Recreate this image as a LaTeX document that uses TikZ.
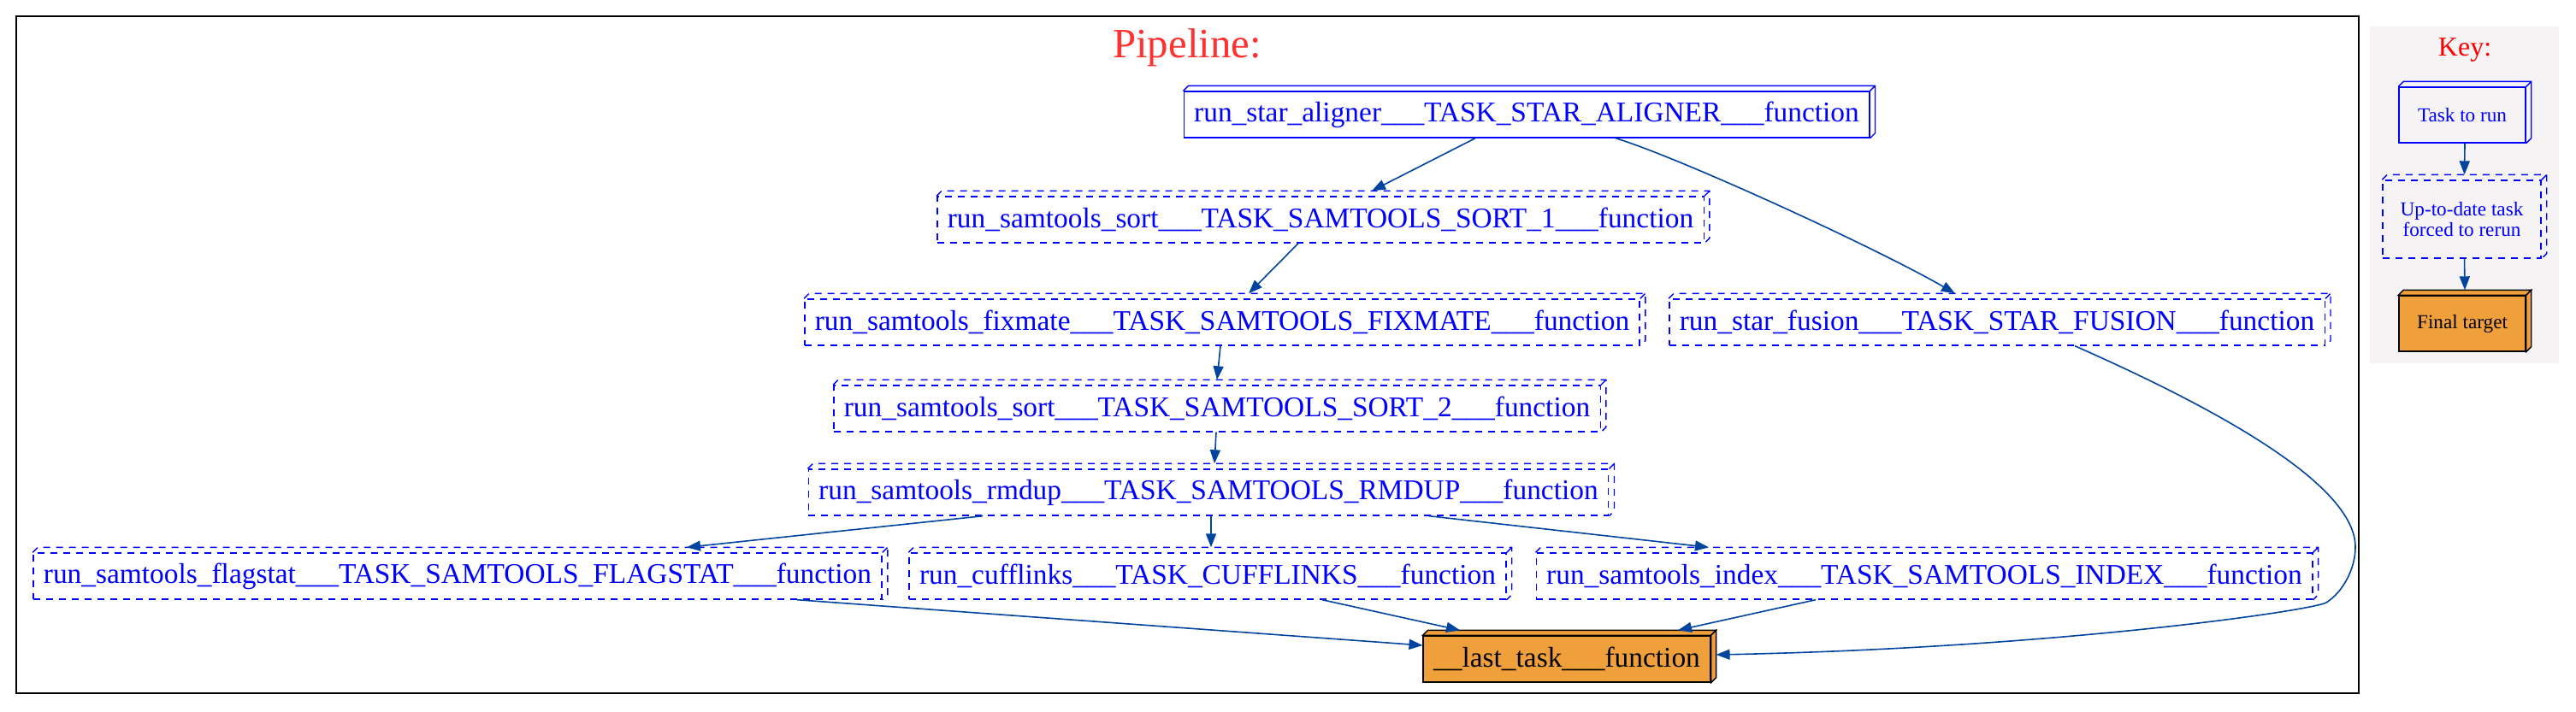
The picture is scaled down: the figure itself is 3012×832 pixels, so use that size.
\documentclass[tikz,border=0pt]{standalone}
\usepackage{fontspec}
\setmainfont{Liberation Serif}
\usetikzlibrary{arrows.meta}
\definecolor{taskblue}{HTML}{0000FF}
\definecolor{edgeblue}{HTML}{0044A0}
\definecolor{targetfill}{HTML}{EFA03B}
\definecolor{keyback}{HTML}{F5F3F4}
\definecolor{titlered}{HTML}{FF3232}
\begin{document}
\begin{tikzpicture}[x=0.5pt,y=-0.5pt,
    blueline/.style={draw=taskblue, line width=0.7pt},
    dashline/.style={blueline, dash pattern=on 4pt off 3.5pt},
    task/.style={blueline, text=taskblue, inner xsep=6pt, minimum height=27pt,
      font=\fontsize{16.7}{20}\selectfont},
    forced/.style={task, dashline},
    target/.style={task, draw=black, text=black, fill=targetfill},
    keynode/.style={font=\fontsize{11.6}{12}\selectfont, align=center,
      minimum width=74pt, minimum height=32.5pt},
    edge/.style={draw=edgeblue, line width=0.8pt, -{Triangle[length=8pt,width=6pt]}}
  ]
      \useasboundingbox (0,0) rectangle (3012,832);
      \fill[keyback] (2771,31) rectangle (2992,425);
      \draw[line width=1pt] (19,19) rectangle (2758,811);

      \node[font=\fontsize{24.4}{29}\selectfont, text=titlered, anchor=base] (pipetitle) at (1388,67) {Pipeline:};
      \node[font=\fontsize{16}{19}\selectfont, text=red, anchor=base] (keytitle) at (2882,65) {Key:};

      \node[task] (aligner) at (1785,134) {run\_star\_aligner\_\_\_TASK\_STAR\_ALIGNER\_\_\_function};
      \node[forced] (sort1) at (1544,257) {run\_samtools\_sort\_\_\_TASK\_SAMTOOLS\_SORT\_1\_\_\_function};
      \node[forced] (fixmate) at (1429,377) {run\_samtools\_fixmate\_\_\_TASK\_SAMTOOLS\_FIXMATE\_\_\_function};
      \node[forced] (fusion) at (2335,377) {run\_star\_fusion\_\_\_TASK\_STAR\_FUSION\_\_\_function};
      \node[forced] (sort2) at (1423,478) {run\_samtools\_sort\_\_\_TASK\_SAMTOOLS\_SORT\_2\_\_\_function};
      \node[forced] (rmdup) at (1413,576) {run\_samtools\_rmdup\_\_\_TASK\_SAMTOOLS\_RMDUP\_\_\_function};
      \node[forced] (flagstat) at (535,674) {run\_samtools\_flagstat\_\_\_TASK\_SAMTOOLS\_FLAGSTAT\_\_\_function};
      \node[forced] (cufflinks) at (1412,674) {run\_cufflinks\_\_\_TASK\_CUFFLINKS\_\_\_function};
      \node[forced] (index) at (2250,674) {run\_samtools\_index\_\_\_TASK\_SAMTOOLS\_INDEX\_\_\_function};
      \node[target] (last) at (1832,771) {\_\_last\_task\_\_\_function};

      \node[task, keynode] (keytask) at (2879,134.5) {Task to run};
      \node[forced, keynode, minimum width=92.5pt, minimum height=45.5pt] (keyforced) at (2878.5,256.5) {Up-to-date task\\forced to rerun};
      \node[target, keynode] (keytarget) at (2879,378.5) {Final target};

      % box3d faces
      \foreach \n in {aligner, keytask}
        \draw[blueline] (\n.north west) -- ([shift={(3pt,3pt)}]\n.north west) -- ([shift={(3pt,3pt)}]\n.north east)
          -- ([shift={(3pt,3pt)}]\n.south east) -- (\n.south east) (\n.north east) -- ([shift={(3pt,3pt)}]\n.north east);
      \foreach \n in {sort1, fixmate, fusion, sort2, rmdup, flagstat, cufflinks, index, keyforced}
        \draw[dashline] (\n.north west) -- ([shift={(3pt,3pt)}]\n.north west) -- ([shift={(3pt,3pt)}]\n.north east)
          -- ([shift={(3pt,3pt)}]\n.south east) -- (\n.south east) (\n.north east) -- ([shift={(3pt,3pt)}]\n.north east);
      \foreach \n in {last, keytarget} {
        \filldraw[fill=targetfill, line width=0.7pt] (\n.north west) -- ([shift={(3pt,3pt)}]\n.north west)
          -- ([shift={(3pt,3pt)}]\n.north east) -- (\n.north east) -- cycle;
        \filldraw[fill=targetfill, line width=0.7pt] (\n.north east) -- ([shift={(3pt,3pt)}]\n.north east)
          -- ([shift={(3pt,3pt)}]\n.south east) -- (\n.south east) -- cycle;
      }

      \draw[edge] ([xshift=-30pt]aligner.south) -- ([xshift=30pt,yshift=3pt]sort1.north);
      \draw[edge] ([xshift=52pt]aligner.south) .. controls (1960,183) and (2190,288) .. ([xshift=-24.5pt,yshift=3pt]fusion.north);
      \draw[edge] ([xshift=-13pt]sort1.south) -- ([xshift=15.5pt,yshift=3pt]fixmate.north);
      \draw[edge] ([xshift=-1pt]fixmate.south) -- ([yshift=3pt]sort2.north);
      \draw[edge] ([xshift=-0.5pt]sort2.south) -- ([xshift=3.5pt,yshift=3pt]rmdup.north);
      \draw[edge] ([xshift=-132pt]rmdup.south) -- ([xshift=134pt,yshift=3pt]flagstat.north);
      \draw[edge] ([xshift=1.5pt]rmdup.south) -- ([xshift=2pt,yshift=3pt]cufflinks.north);
      \draw[edge] ([xshift=129pt]rmdup.south) -- ([xshift=-126pt,yshift=3pt]index.north);
      \draw[edge] ([xshift=198.5pt]flagstat.south) -- ([yshift=8pt]last.west);
      \draw[edge] ([xshift=67pt]cufflinks.south) -- ([xshift=-62.5pt,yshift=3pt]last.north);
      \draw[edge] ([xshift=-63.5pt]index.south) -- ([xshift=65pt,yshift=3pt]last.north);
      \draw[edge] ([xshift=45.5pt]fusion.south) .. controls (2583,474) and (2754,565) .. (2754,640)
        .. controls (2754,665) and (2740,692) .. (2720,705)
        .. controls (2700,715) and (2400,758) .. ([xshift=3pt,yshift=2.5pt]last.east);

      \draw[edge] ([xshift=1.5pt]keytask.south) -- ([xshift=1.5pt,yshift=3pt]keyforced.north);
      \draw[edge] ([xshift=1.5pt]keyforced.south) -- ([xshift=1.5pt,yshift=3pt]keytarget.north);

    \end{tikzpicture}
\end{document}
